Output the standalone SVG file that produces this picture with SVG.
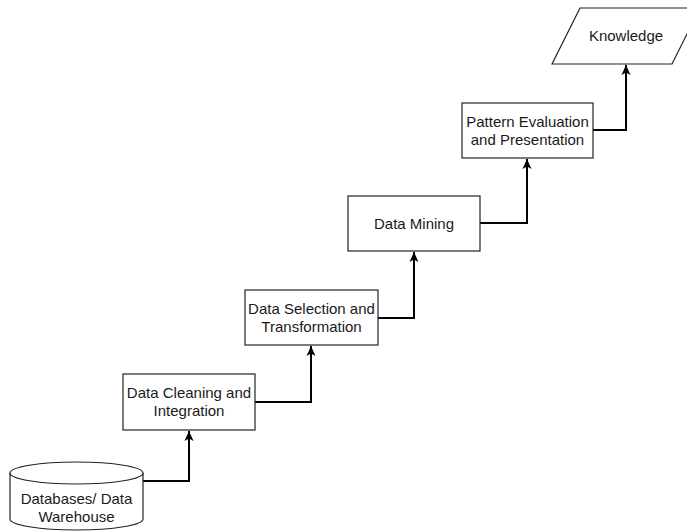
<svg xmlns="http://www.w3.org/2000/svg" width="687" height="531" viewBox="0 0 687 531">
<defs>
<style>
.box{fill:#ffffff;stroke:#222222;stroke-width:1.2}
.lbl{font-family:"Liberation Sans",Arial,sans-serif;font-size:15px;fill:#1a1a1a;text-anchor:middle}
.edge{fill:none;stroke:#000000;stroke-width:2}
</style>
<marker id="arr" markerUnits="userSpaceOnUse" markerWidth="12" markerHeight="12" viewBox="0 0 12 12" refX="11" refY="6" orient="auto">
<path d="M1,1.5 L11,6 L1,10.5 L3.5,6 Z" fill="#000000"/>
</marker>
</defs>
<rect width="687" height="531" fill="#ffffff"/>
<g id="connectors">
<path class="edge" d="M143,481 H189 V431" marker-end="url(#arr)"/>
<path class="edge" d="M255,402 H311 V346" marker-end="url(#arr)"/>
<path class="edge" d="M378,318 H414 V252" marker-end="url(#arr)"/>
<path class="edge" d="M480,223 H527 V159" marker-end="url(#arr)"/>
<path class="edge" d="M593,130 H626 V65" marker-end="url(#arr)"/>
</g>
<g id="databases">
<path class="box" d="M10,473 A66.5,11 0 0 1 143,473 V519 A66.5,11 0 0 1 10,519 Z"/>
<path class="box" style="fill:none" d="M10,473 A66.5,11 0 0 0 143,473"/>
<text class="lbl" x="76.5" y="504">Databases/ Data</text>
<text class="lbl" x="76.5" y="522">Warehouse</text>
</g>
<g id="cleaning">
<rect class="box" x="123" y="374" width="132" height="56"/>
<text class="lbl" x="189" y="398">Data Cleaning and</text>
<text class="lbl" x="189" y="416">Integration</text>
</g>
<g id="selection">
<rect class="box" x="245" y="290" width="133" height="55"/>
<text class="lbl" x="311.5" y="314">Data Selection and</text>
<text class="lbl" x="311.5" y="332">Transformation</text>
</g>
<g id="mining">
<rect class="box" x="348" y="196" width="132" height="55"/>
<text class="lbl" x="414" y="229">Data Mining</text>
</g>
<g id="evaluation">
<rect class="box" x="462" y="103" width="131" height="55"/>
<text class="lbl" x="527.5" y="127">Pattern Evaluation</text>
<text class="lbl" x="527.5" y="145">and Presentation</text>
</g>
<g id="knowledge">
<polygon class="box" points="552,64 580,8 700,8 672,64"/>
<text class="lbl" x="626" y="41">Knowledge</text>
</g>
</svg>
